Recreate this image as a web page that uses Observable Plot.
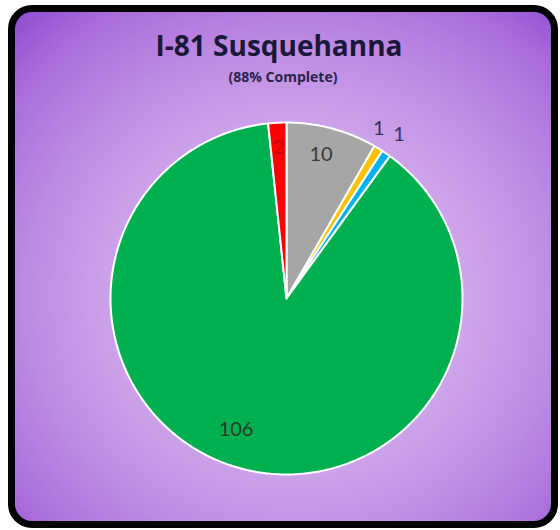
<!DOCTYPE html>
<html><head><meta charset="utf-8">
<script src="https://cdn.jsdelivr.net/npm/d3@7"></script>
<script src="https://cdn.jsdelivr.net/npm/@observablehq/plot@0.6"></script>
<style>
html,body{margin:0;padding:0;background:#fff;}
#wrap{position:relative;width:560px;height:530px;overflow:hidden;}
#frame{position:absolute;left:8px;top:5px;width:550px;height:523px;box-sizing:border-box;border:7px solid #000;border-radius:24px;
background:radial-gradient(ellipse 75% 75% at 52% 56%, #dcc4f0 0%, #d2aeec 35%, #bf8ce4 65%, #a86ad9 88%, #9050d2 100%);}
#title{position:absolute;left:0;top:31px;width:558px;text-align:center;font:bold 28px "Open Sans",sans-serif;line-height:28px;color:#1a1838;}
#sub{position:absolute;left:0;top:70px;width:566px;text-align:center;font:bold 14px "Open Sans",sans-serif;line-height:14px;color:#2a2448;}
#chart{position:absolute;left:0;top:0;}
</style></head>
<body>
<div id="wrap">
  <div id="frame"></div>
  <div id="title">I-81 Susquehanna</div>
  <div id="sub">(88% Complete)</div>
  <div id="chart"></div>
</div>
<script>
// Data (clockwise from 12 o'clock)
const categories = ["In Progress", "Caution", "Review", "Complete", "Issue"];
const values = [10, 1, 1, 106, 2];
const colors = ["#a6a6a6", "#ffc000", "#00b0f0", "#00b050", "#ff0000"];
const labels = ["10", "1", "1", "106", "2"];

// layout constants
const W = 560, H = 530, cx = 286, cy = 298, R = 176;
const labelRadius = [0.84, 1.1, 1.13, 0.8, 0.86];
const labelNudge = [-1.5, -3, 0, 6, 0]; // degrees
const labelColor = ["#3a3a3a", "#3b2d5c", "#3b2d5c", "#2a3a2a", "#c80000"];

const pie = d3.pie().sort(null).value(d => d.value)
  (categories.map((c, i) => ({name: c, value: values[i], i})));

const pts = [];
for (const a of pie) {
  const n = Math.max(2, Math.ceil((a.endAngle - a.startAngle) / 0.01));
  pts.push({name: a.data.name, x: 0, y: 0});
  for (let k = 0; k <= n; k++) {
    const t = a.startAngle + (a.endAngle - a.startAngle) * k / n;
    pts.push({name: a.data.name, x: Math.sin(t), y: Math.cos(t)});
  }
  pts.push({name: a.data.name, x: 0, y: 0});
}
const lab = pie.map(a => {
  const i = a.data.i;
  const m = (a.startAngle + a.endAngle) / 2 + labelNudge[i] * Math.PI / 180, r = labelRadius[i];
  return {name: a.data.name, text: labels[i], x: Math.sin(m) * r, y: Math.cos(m) * r, color: labelColor[i]};
});

const chart = Plot.plot({
  width: W, height: H,
  margin: 0,
  style: {background: "transparent", overflow: "visible"},
  x: {domain: [-cx / R, (W - cx) / R], range: [0, W], axis: null},
  y: {domain: [-(H - cy) / R, cy / R], range: [H, 0], axis: null},
  color: {type: "ordinal", domain: categories, range: colors},
  marks: [
    Plot.line(pts, {x: "x", y: "y", z: "name", fill: "name", stroke: "white", strokeWidth: 2, strokeLinejoin: "round", curve: "linear"}),
    Plot.text(lab, {x: "x", y: "y", text: "text", fill: d => d.color, fontSize: 20, fontFamily: "Lato, sans-serif"})
  ]
});
document.getElementById("chart").appendChild(chart);
</script>
</body></html>
